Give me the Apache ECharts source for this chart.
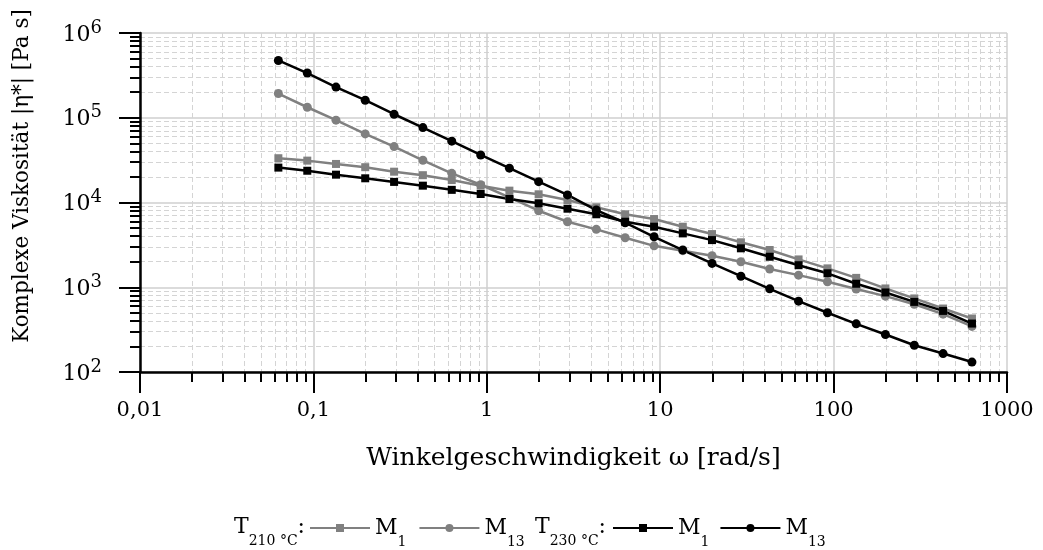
<!DOCTYPE html>
<html><head><meta charset="utf-8">
<script src="https://cdn.jsdelivr.net/npm/echarts@6/dist/echarts.min.js"></script>
<style>html,body{margin:0;padding:0;background:#fff}#c{width:1043px;height:550px}</style>
</head><body><div id="c"></div>
<script>
// Angular frequency ω [rad/s]
const omega = [0.0628,0.0922,0.135,0.199,0.292,0.428,0.628,0.922,1.35,1.99,2.92,4.28,6.28,9.22,13.5,19.9,29.2,42.8,62.8,92.2,135,199,292,428,628];
// Complex viscosity |η*| [Pa s]
const m1_210  = [33300,31200,28500,26100,23100,21000,18400,15800,13800,12500,10700,8780,7260,6380,5180,4240,3390,2750,2130,1670,1290,968,738,561,428];
const m13_210 = [193000,133000,93700,64500,45700,31500,22100,16200,11500,8000,5930,4820,3840,3080,2700,2350,2000,1640,1390,1160,955,785,631,481,345];
const m1_230  = [25800,23700,21300,19300,17500,15800,14100,12600,11000,9790,8450,7260,5930,5180,4320,3600,2880,2290,1820,1460,1100,868,672,526,373];
const m13_230 = [474000,337000,230000,161000,110000,76600,52900,36400,25400,17600,12300,8150,5770,3940,2750,1910,1350,958,685,500,370,277,207,165,131];
const xTickLabels = ['0,01','0,1','1','10','100','1000'];
const seriesNames = ['M1_210','M13_210','M1_230','M13_230'];
const legendLabels = ['M{s|1}', 'M{s|13}', 'M{s|1}', 'M{s|13}'];
const groupLabels = ['T{s|210 °C}:', 'T{s|230 °C}:'];

const FONT = 'DejaVu Serif';
const GRAY = '#808080';
const SUB = {fontFamily:FONT,fontSize:14,color:'#000',padding:[29,0,0,0]};
const chart = echarts.init(document.getElementById('c'), null, {renderer:'canvas'});
function mk(name, data, color, symbol, size){
  return {name, type:'line', data: omega.map((x,i)=>[x,data[i]]), symbol, symbolSize:size,
    lineStyle:{color, width:2.5}, itemStyle:{color}, color, animation:false, z:3};
}
function lg(left, names, gap){
  return {left, top:517, padding:0, itemWidth:60, itemHeight:10, itemGap:gap, data:names,
    formatter:n=>legendLabels[seriesNames.indexOf(n)],
    textStyle:{fontFamily:FONT,fontSize:22,color:'#000', rich:{s:SUB}}};
}
function gt(x, label){
  return {type:'text', x, y:527, style:{text:label, font:'22px "DejaVu Serif"', fill:'#000',
      align:'right', verticalAlign:'middle', rich:{s:SUB}}};
}
const option = {
  animation:false,
  grid:{left:140,right:36,top:33,bottom:178},
  xAxis:{type:'log', logBase:10, min:0.01, max:1000,
    name:'Winkelgeschwindigkeit ω [rad/s]', nameLocation:'middle', nameGap:74,
    nameTextStyle:{fontFamily:FONT,fontSize:25,color:'#000'},
    axisLine:{lineStyle:{color:'#000',width:2.5}},
    axisTick:{show:true,inside:false,length:21,lineStyle:{color:'#000',width:2}},
    minorTick:{show:true,splitNumber:9,length:10,lineStyle:{color:'#000',width:2}},
    splitLine:{show:true,lineStyle:{color:'#cfcfcf',width:1.5}},
    minorSplitLine:{show:true,lineStyle:{color:'#d4d4d4',width:1,type:[5,3]}},
    axisLabel:{margin:28,fontFamily:FONT,fontSize:21,color:'#000',
      formatter:v=>xTickLabels[Math.round(Math.log10(v))+2]}
  },
  yAxis:{type:'log', logBase:10, min:100, max:1000000,
    axisLine:{lineStyle:{color:'#000',width:2.5}},
    axisTick:{show:true,inside:false,length:21,lineStyle:{color:'#000',width:2}},
    minorTick:{show:true,splitNumber:9,length:10,lineStyle:{color:'#000',width:2}},
    splitLine:{show:true,lineStyle:{color:'#cfcfcf',width:1.5}},
    minorSplitLine:{show:true,lineStyle:{color:'#d4d4d4',width:1,type:[5,3]}},
    axisLabel:{margin:38,fontFamily:FONT,color:'#000',
      formatter:v=>'{b|10}{s|'+Math.round(Math.log10(v))+'}',
      rich:{b:{fontFamily:FONT,fontSize:22,color:'#000',padding:[4,0,0,0]},s:{fontFamily:FONT,fontSize:18,color:'#000',padding:[0,0,10,0]}}}
  },
  legend:[ lg(309, seriesNames.slice(0,2), 12), lg(612, seriesNames.slice(2,4), 10) ],
  graphic:[
    gt(305, groupLabels[0]),
    gt(606, groupLabels[1]),
    {type:'text', x:22, y:176, rotation:Math.PI/2, style:{text:'Komplexe Viskosität |η*| [Pa s]', font:'21.5px "DejaVu Serif"', fill:'#000', align:'center', verticalAlign:'middle'}}
  ],
  series:[
    mk('M1_210', m1_210, GRAY, 'rect', 8),
    mk('M13_210', m13_210, GRAY, 'circle', 9),
    mk('M1_230', m1_230, '#000', 'rect', 8),
    mk('M13_230', m13_230, '#000', 'circle', 9)
  ]
};
chart.setOption(option);
</script></body></html>
